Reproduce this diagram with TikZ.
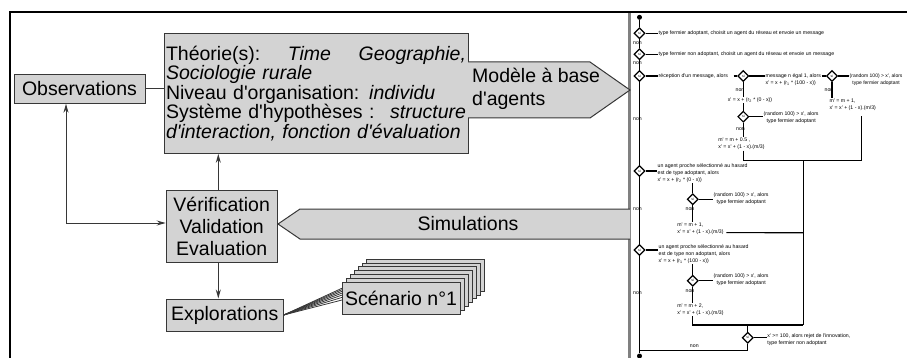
\documentclass[tikz,border=0pt]{standalone}
\usepackage{fontspec}
\setmainfont{Liberation Sans}[Ligatures=TeXOff]
\usetikzlibrary{shapes.geometric,arrows.meta}

\definecolor{boxgray}{RGB}{211,211,211}
\definecolor{edgegray}{RGB}{55,55,55}
\definecolor{panelgray}{RGB}{128,128,128}

\tikzset{
  >={Stealth[open,length=9pt,width=5pt]},
  big/.style={font=\fontsize{19.5}{19.5}\selectfont},
  box/.style={draw=edgegray,fill=boxgray,line width=1pt,inner sep=2pt,big},
  link/.style={draw=edgegray,line width=1pt},
  tiny/.style={font=\fontsize{5.2}{7}\selectfont,inner sep=0.5pt},
  cond/.style={diamond,draw,line width=1.2pt,fill=white,inner sep=0pt,minimum size=11pt,font=\fontsize{3.5}{4}\selectfont},
  flow/.style={line width=1.2pt},
}

\begin{document}
\begin{tikzpicture}[x=1pt,y=-1pt]
   \useasboundingbox (0,0) rectangle (907,358);
   \draw[line width=2pt] (10.3,358) -- (10.3,12.2) -- (907,12.2);
   \draw[panelgray,line width=2.5pt] (629.5,13.2) -- (629.5,358);

   \node (obs) at (79.5,88.7) [box,minimum width=131pt,minimum height=29pt] {Observations};
   \node (theo) at (316,93.3) [box,minimum width=304pt,minimum height=120pt,text width=300pt,align=left]
      {Théorie(s):\hfill\textit{Time}\hfill\textit{Geographie,}\\
       \textit{Sociologie rurale}\\
       Niveau d'organisation: \textit{individu}\\
       Système d'hypothèses :\hfill\textit{structure}\\
       \textit{d'interaction, fonction d'évaluation}\par\vspace{9pt}};
   \node (verif) at (221.7,226.7) [box,minimum width=111pt,minimum height=72pt,align=center,
      font=\fontsize{19.5}{22}\selectfont] {Vérification\\Validation\\Evaluation};
   \node (explo) at (224.7,315) [box,minimum width=117pt,minimum height=32pt] {Explorations};

   \draw[draw=edgegray,fill=boxgray,line width=1pt] (468,62) -- (590,62) -- (630,90) -- (590,118) -- (468,118);
   \node (modele) at (472,88.5) [anchor=west,align=left,inner sep=0pt,font=\fontsize{19.5}{23}\selectfont] {Modèle à base\\d'agents};
   \draw[draw=edgegray,fill=boxgray,line width=1pt] (630,209) -- (300,209) -- (278,224) -- (300,239) -- (630,239);
   \node (simu) at (468,224) [big] {Simulations};

   \foreach \k in {0,...,6}
      \coordinate (s\k) at (342+4*\k,300-3.8*\k);
   \foreach \k in {0,...,6}
      \draw[edgegray,line width=0.8pt] (explo.east) -- (s\k);
   \foreach \k in {6,...,1}
      \node (scen\k) at (401+4*\k,298-3.8*\k) [box,minimum width=118pt,minimum height=32pt] {};
   \node (scen0) at (401,298) [box,minimum width=118pt,minimum height=32pt] {Scénario n°1};

   \draw[link,->] ([xshift=-3.4pt]verif.north) -- ([xshift=-3.4pt]verif.north |- theo.south);
   \draw[link,->] ([xshift=-3.4pt]verif.south) -- ([xshift=-3.4pt]verif.south |- explo.north);
   \draw[link] (obs.east) -- (theo.west |- obs.east);
   \draw[link,<->] ([xshift=-13.5pt]obs.south) |- ([yshift=3.7pt]verif.west);

   \node (top) at (639.5,17.3) [circle,fill,inner sep=0pt,minimum size=5pt] {};
   \node (bot) at (639.5,356) [circle,fill,inner sep=0pt,minimum size=5pt] {};
   \node (c1) at (639.5,33.3) [cond] {si};
   \node (c2) at (639.5,54.3) [cond] {si};
   \node (c3) at (639.5,76) [cond] {si};
   \node (c7) at (639.5,171) [cond] {si};
   \node (c9) at (639.5,250) [cond] {si};
   \draw[flow] (top) -- (c1) -- (c2) -- (c3) -- (c7) -- (c9) -- (bot);
   \node (n1) at (637.5,42.7) [tiny] {non};
   \node (n2) at (637.5,63) [tiny] {non};
   \node (n3) at (637.5,119) [tiny] {non};
   \node (n7) at (637.5,209.3) [tiny] {non};
   \node (n9) at (637.5,293.3) [tiny] {non};

   \node (t1) at (658,33.3) [tiny,anchor=west] {type fermier adoptant, choisit un agent du réseau et envoie un message};
   \node (t2) at (658,54.3) [tiny,anchor=west] {type fermier non adoptant, choisit un agent du réseau et envoie un message};
   \node (t3) at (658,76) [tiny,anchor=west] {réception d'un message, alors};
   \draw[flow] (c1) -- (t1);
   \draw[flow] (c2) -- (t2);
   \draw[flow] (c3) -- (t3);

   \node (c4) at (743.3,76) [cond] {si};
   \draw[flow] ([xshift=5pt]t3.east) -- (c4);
   \node (t4) at (765,80) [tiny,anchor=west,align=left] {message n égal 1, alors\\x' = x + (r\textsubscript{1} * (100 - x))};
   \draw[flow] (c4) -- (c4 -| t4.west);
   \node (c5) at (832,76) [cond] {si};
   \draw[flow] (t4.east |- c5) -- (c5);
   \node (t5) at (849,79.5) [tiny,anchor=west,align=center,font=\fontsize{5}{7}\selectfont] {(random 100) > x', alors\\type fermier adoptant};
   \draw[flow] (c5) -- (c5 -| t5.west);
   \node (n4) at (740,90) [tiny] {non};
   \node (n5) at (829,90) [tiny] {non};
   \node (t6) at (750,100) [tiny] {x' = x + (r\textsubscript{2} * (0 - x))};
   \node (c6) at (743.3,116.7) [cond] {si};
   \draw[flow] (c4) -- (c4 |- t6.north);
   \draw[flow] (c6 |- t6.south) -- (c6);
   \node (t9) at (763,118) [tiny,anchor=west,align=center] {(random 100) > x', alors\\type fermier adoptant};
   \draw[flow] (c6) -- (c6 -| t9.west);
   \node (n6) at (740.5,129) [tiny] {non};
   \node (t8) at (717.7,144) [tiny,anchor=west,align=left] {m' = m + 0.5 ,\\x' = x' + (1 - x).(m/3)};
   \draw[flow] (c6) -- (c6 |- t8.north);
   \node (t7) at (829,104.5) [tiny,anchor=west,align=left] {m' = m + 1,\\x' = x' + (1 - x).(m/3)};
   \draw[flow] (c5) -- (c5 |- t7.north);

   \coordinate (j1) at (861.7,160.7);
   \coordinate (j2) at (803.3,160.7);
   \coordinate (j3) at (803.3,325);
   \coordinate (j4) at (803.3,232.7);
   \coordinate (j5) at (639.5,350.7);
   \draw[flow] (c6 |- t8.south) |- (j1) -- ([yshift=-5pt]j1 |- t7.south);
   \draw[flow] (j2) -- (j3);

   \node (t10) at (657,173) [tiny,anchor=west,align=left] {un agent proche sélectionné au hasard\\est de type adoptant, alors\\x' = x + (r\textsubscript{2} * (0 - x))};
   \draw[flow] (c7) -- (c7 -| t10.west);
   \node (c8) at (692.7,199.3) [cond] {si};
   \draw[flow] (c8 |- t10.south) -- (c8);
   \node (t11) at (713,199) [tiny,anchor=west,align=center] {(random 100) > x', alors\\type fermier adoptant};
   \draw[flow] (c8) -- (c8 -| t11.west);
   \node (n8) at (690,209.3) [tiny] {non};
   \node (t12) at (676.7,228.7) [tiny,anchor=west,align=left] {m' = m + 1,\\x' = x' + (1 - x).(m/3)};
   \draw[flow] (c8) -- (c8 |- t12.north);
   \draw[flow] ([xshift=2pt,yshift=-3.9pt]t12.east) -- (j4);

   \node (t13) at (658,254) [tiny,anchor=west,align=left] {un agent proche sélectionné au hasard\\est de type non adoptant, alors\\x' = x + (r\textsubscript{1} * (100 - x))};
   \draw[flow] (c9) -- (c9 -| t13.west);
   \node (c10) at (692.7,280.7) [cond] {si};
   \draw[flow] (c10 |- t13.south) -- (c10);
   \node (t14) at (713,279.7) [tiny,anchor=west,align=center] {(random 100) > x', alors\\type fermier adoptant};
   \draw[flow] (c10) -- (c10 -| t14.west);
   \node (n10) at (690,290.7) [tiny] {non};
   \node (t15) at (676.7,309.7) [tiny,anchor=west,align=left] {m' = m + 2,\\x' = x' + (1 - x).(m/3)};
   \draw[flow] (c10) -- (c10 |- t15.north);
   \draw[flow] (c10 |- t15.south) |- (j3);

   \node (c11) at (747.7,337.7) [cond] {si};
   \draw[flow] (c11 |- j3) -- (c11);
   \node (t16) at (766.7,340) [tiny,anchor=west,align=left] {x' >= 100, alors rejet de l'innovation,\\type fermier non adoptant};
   \draw[flow] (c11) -- (c11 -| t16.west);
   \draw[flow] (c11) |- (j5);
   \node (n11) at (694.3,346) [tiny] {non};
\end{tikzpicture}
\end{document}
